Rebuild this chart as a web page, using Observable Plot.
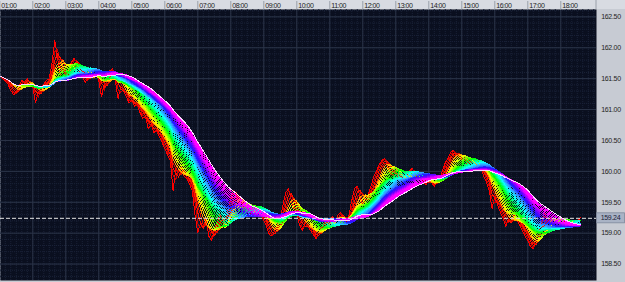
<!DOCTYPE html>
<html><head><meta charset="utf-8">
<script src="https://cdn.jsdelivr.net/npm/d3@7"></script>
<script src="https://cdn.jsdelivr.net/npm/@observablehq/plot@0.6"></script>
<style>
html,body{margin:0;padding:0;background:#c7cbd3;overflow:hidden;}
#chart svg{display:block;}
#chart g[aria-label="x-axis tick label"] text{letter-spacing:-0.5px;}
#chart g[aria-label="y-axis tick label"] text{letter-spacing:-0.3px;}
</style></head><body><div id="chart"></div>
<script>
// ---- data (5-minute closes) ----
const sessionStartHour = 1;   // first bar at 01:00
const barMinutes = 5;
const close = [
161.54,161.50,161.47,161.41,161.31,161.24,161.28,161.37,161.47,161.44,161.50,161.41,
161.37,161.11,161.28,161.37,161.41,161.47,161.50,161.76,162.12,161.83,161.55,161.70,
161.47,161.63,161.76,161.83,161.76,161.63,161.54,161.44,161.50,161.57,161.54,161.60,
161.47,161.21,161.41,161.54,161.63,161.66,161.47,161.18,161.37,161.31,161.21,161.11,
161.15,161.05,161.08,160.95,160.86,160.89,160.69,160.76,160.63,160.66,160.56,160.47,
160.37,160.27,160.18,159.69,160.05,159.98,160.08,159.92,159.89,159.79,159.69,159.29,
159.01,159.17,159.08,159.24,158.95,158.88,159.04,159.17,159.30,159.21,159.11,159.37,
159.56,159.69,159.63,159.46,159.37,159.43,159.34,159.30,159.27,159.37,159.40,159.30,
159.21,159.11,158.98,158.95,159.04,159.14,159.24,159.46,159.66,159.72,159.53,159.37,
159.30,159.14,159.04,159.17,159.11,159.04,158.98,158.91,159.01,159.11,159.17,159.24,
159.21,159.27,159.17,159.30,159.34,159.21,159.14,159.30,159.53,159.72,159.76,159.59,
159.46,159.56,159.63,159.76,159.92,160.01,160.11,160.18,160.21,160.08,159.98,159.92,
160.01,159.89,159.85,159.82,159.92,160.01,160.05,159.95,159.89,159.85,159.82,159.79,
159.85,159.82,159.76,159.85,159.89,160.01,160.14,160.21,160.31,160.34,160.24,160.27,
160.18,160.21,160.11,160.14,160.08,160.11,160.01,160.05,159.92,159.82,159.69,159.40,
159.59,159.46,159.34,159.24,159.11,159.24,159.17,159.30,159.21,159.14,159.04,158.95,
158.88,158.78,158.75,158.91,159.01,159.17,159.34,159.21,159.17,159.24,159.21,159.17,
159.24,159.21,159.17,159.21,159.17,159.19,159.17,159.25
];
const hourTicks  = [1,2,3,4,5,6,7,8,9,10,11,12,13,14,15,16,17,18];
const hourLabels = ["01:00","02:00","03:00","04:00","05:00","06:00","07:00","08:00","09:00",
                    "10:00","11:00","12:00","13:00","14:00","15:00","16:00","17:00","18:00"];
const priceTicks = [158.5,159.0,159.5,160.0,160.5,161.0,161.5,162.0,162.5];
const lastPrice = 159.24;
const maPeriods = [1,2,3,4,5,6,7,8,9,10,11,12,13,14,15,16,17,18,19,20,21,22,23,24,25,26,27,28,29,30];

// ---- derived ----
const bars = close.map((c, i) => ({t: sessionStartHour + i * barMinutes / 60, price: c}));
const hourLabel = new Map(hourTicks.map((h, i) => [h, hourLabels[i]]));
const n = maPeriods.length;
const redShades = ["#ff0000", "#c80000", "#ff1400", "#dc0c00"];
function maColor(j) {
  if (j === n - 1) return "#ffd6ff";
  if (j < redShades.length) return redShades[j];
  const f = (j - redShades.length + 1) / (n - 1 - redShades.length);
  const h = Math.min(300, 15 + 310 * Math.pow(f, 0.85));
  const bump = Math.exp(-Math.pow((h - 215) / 30, 2));
  return d3.hsl(h, 1, 0.5 + 0.1 * bump).formatHex();
}
const maSeries = maPeriods.map(k => bars.map((d, i) => ({
  t: d.t,
  v: d3.mean(close.slice(Math.max(0, i - k + 1), i + 1))
})));

const minorX = d3.range(1, 19.1, 1 / 6);
const minorY = d3.range(158.3, 162.65, 0.1);

const font = "'Liberation Sans', Arial, sans-serif";

const plot = Plot.plot({
  width: 625, height: 282,
  marginTop: 9, marginRight: 29, marginBottom: 2, marginLeft: 0,
  style: {background: "transparent", fontFamily: font, fontSize: "7px", color: "#222"},
  x: {domain: [1.0212, 19.082], label: null},
  y: {domain: [158.234, 162.619], label: null},
  marks: [
    Plot.frame({fill: "#0a0f1f", stroke: null}),
    Plot.ruleX(minorX, {stroke: "#1a2238", strokeDasharray: "1,1"}),
    Plot.ruleY(minorY, {stroke: "#1a2238", strokeDasharray: "1,1"}),
    Plot.ruleX(hourTicks, {stroke: "#2b3448"}),
    Plot.ruleY(priceTicks, {stroke: "#2b3448"}),
    ...maSeries.map((s, j) => Plot.line(s, {
      x: "t", y: "v", stroke: maColor(j), strokeWidth: 1, shapeRendering: "crispEdges"
    })),
    Plot.ruleY([lastPrice], {stroke: "#e6e6e6", strokeDasharray: "4,2"}),
    Plot.axisX({ticks: hourTicks, anchor: "top", tickSize: 9, stroke: "#9aa0aa", tickFormat: () => "", label: null}),
    Plot.axisX({ticks: hourTicks, anchor: "top", tickSize: 0, tickPadding: 1.2, textAnchor: "start", dx: 1.5,
                tickFormat: d => hourLabel.get(d), fill: "#1e1e1e", label: null}),
    Plot.axisY({ticks: priceTicks, anchor: "right", tickSize: 0, tickPadding: 0, textAnchor: "middle", dx: 14.5,
                tickFormat: d3.format(".2f"), fill: "#1e1e1e", label: null})
  ]
});

const svg = d3.select(plot);
// top time strip
svg.insert("rect", ":first-child")
  .attr("x", 0).attr("y", 0).attr("width", 625).attr("height", 9)
  .attr("fill", "#d8dbe2");
svg.append("line").attr("x1", 596).attr("x2", 596).attr("y1", 0).attr("y2", 9)
  .attr("stroke", "#9aa0aa");
// last price box
const yLast = plot.scale("y").apply(lastPrice);
const g = svg.append("g");
g.append("rect").attr("x", 596.5).attr("y", yLast - 5).attr("width", 28).attr("height", 10)
  .attr("fill", "#a9b3c5").attr("stroke", "#7e889b").attr("stroke-width", 0.8);
g.append("text").attr("x", 610.5).attr("y", yLast).attr("dy", "0.32em")
  .attr("text-anchor", "middle").attr("font-family", font).attr("font-size", "7px")
  .attr("letter-spacing", "-0.3px")
  .attr("fill", "#1a2236").text(lastPrice.toFixed(2));

document.getElementById("chart").appendChild(plot);
</script>
</body></html>
